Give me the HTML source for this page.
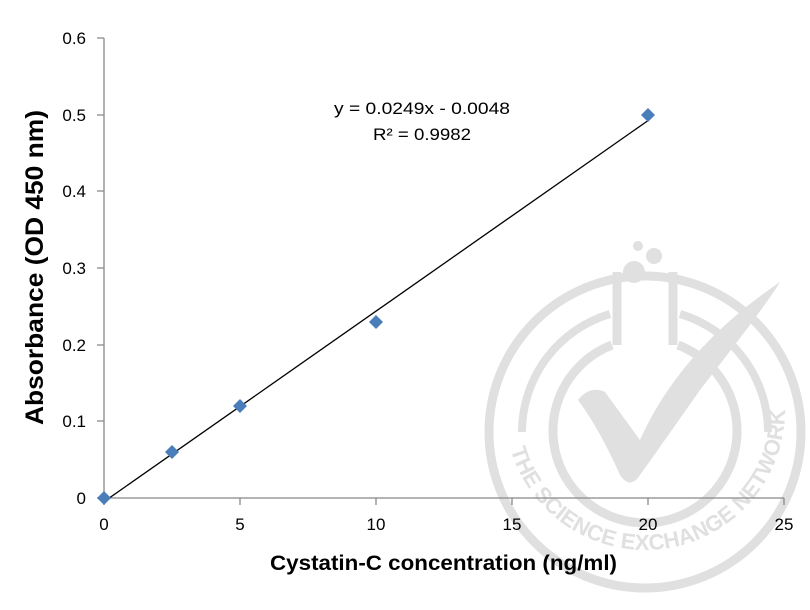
<!DOCTYPE html>
<html><head><meta charset="utf-8"><style>body{margin:0;background:#fff}svg{display:block}</style></head><body>
<svg width="810" height="610" xmlns="http://www.w3.org/2000/svg" font-family="'Liberation Sans',sans-serif">
<defs><path id="arc" d="M 505 410 A 140 140 0 1 0 785 410"/></defs>
<rect width="810" height="610" fill="#fff"/>
<g fill="none" stroke="#e0e0e0">
<circle cx="645" cy="432" r="156" stroke-width="9"/>
<path d="M 610 314 A 123 123 0 0 0 522 432 M 680 314 A 123 123 0 0 1 768 432" stroke-width="8"/>
<path d="M 612 345 A 92 92 0 1 0 678 345" stroke-width="9"/>
<path d="M 617 272 L 617 345 M 673 272 L 673 345" stroke-width="9"/>
</g>
<g fill="#e0e0e0">
<circle cx="634" cy="272" r="11"/><circle cx="654" cy="256" r="8"/><circle cx="638" cy="246" r="5"/>
<path d="M 578 400 Q 590 385 605 392 L 640 440 Q 680 350 780 282 Q 770 300 700 390 Q 665 440 640 475 Q 630 490 620 475 Q 600 430 578 400 Z"/>
</g>
<text font-size="22" fill="#e0e0e0" font-weight="bold"><textPath href="#arc" startOffset="40" textLength="400" lengthAdjust="spacingAndGlyphs">THE SCIENCE EXCHANGE NETWORK</textPath></text>
<g stroke="#888" stroke-width="1.3" fill="none">
<line x1="104" y1="38" x2="104" y2="498"/>
<line x1="104" y1="498" x2="784" y2="498"/>
<path d="M97 38H104M97 115H104M97 191H104M97 268H104M97 345H104M97 421H104M97 498H104"/>
<path d="M104 498V505M240 498V505M376 498V505M512 498V505M648 498V505M784 498V505"/>
</g>
<g font-size="17" fill="#000" text-anchor="end">
<text x="86" y="44">0.6</text><text x="86" y="121">0.5</text><text x="86" y="197">0.4</text>
<text x="86" y="274">0.3</text><text x="86" y="351">0.2</text><text x="86" y="427">0.1</text><text x="86" y="504">0</text>
</g>
<g font-size="17" fill="#000" text-anchor="middle">
<text x="104" y="530">0</text><text x="240" y="530">5</text><text x="376" y="530">10</text>
<text x="512" y="530">15</text><text x="648" y="530">20</text><text x="784" y="530">25</text>
</g>
<text x="270" y="570" font-size="21" font-weight="bold" textLength="347" lengthAdjust="spacingAndGlyphs">Cystatin-C concentration (ng/ml)</text>
<text transform="translate(43,425) rotate(-90)" font-size="25" font-weight="bold" textLength="315" lengthAdjust="spacingAndGlyphs">Absorbance (OD 450 nm)</text>
<line x1="104" y1="501.7" x2="648" y2="120.6" stroke="#000" stroke-width="1.3"/>
<g fill="#4a7ebb">
<path d="M104 491l7 7-7 7-7-7z"/><path d="M172 445l7 7-7 7-7-7z"/><path d="M240 399l7 7-7 7-7-7z"/>
<path d="M376 315l7 7-7 7-7-7z"/><path d="M648 108l7 7-7 7-7-7z"/>
</g>
<text x="334" y="114" font-size="17" textLength="176" lengthAdjust="spacingAndGlyphs">y = 0.0249x - 0.0048</text>
<text x="373" y="140" font-size="17" textLength="98" lengthAdjust="spacingAndGlyphs">R² = 0.9982</text>
</svg>
</body></html>
